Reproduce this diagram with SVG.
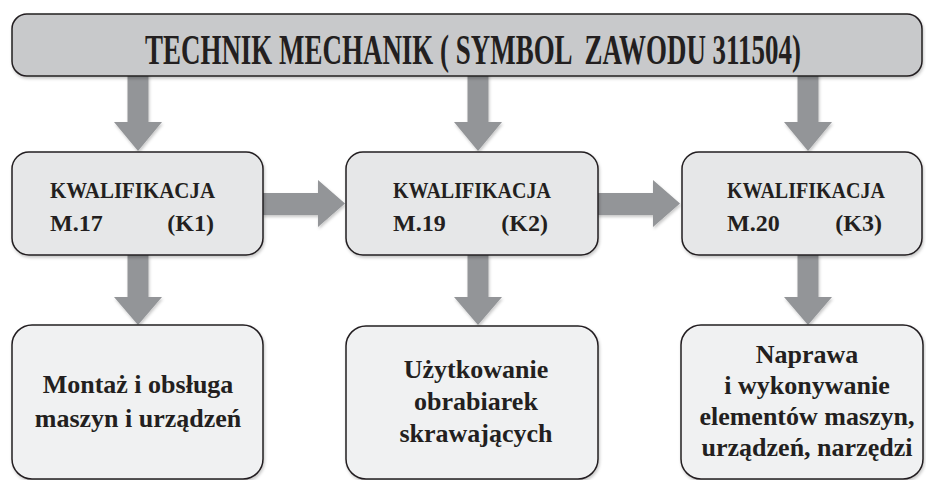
<svg xmlns="http://www.w3.org/2000/svg" width="926" height="480" viewBox="0 0 926 480">
  <defs>
    <filter id="shadow" x="-10%" y="-10%" width="120%" height="130%">
      <feDropShadow dx="1" dy="2" stdDeviation="1.8" flood-color="#000" flood-opacity="0.22"/>
    </filter>
    <style>
      .arrow { fill: #939598; filter: url(#shadow); }
      .box { stroke: #231f20; stroke-width: 1.5; filter: url(#shadow); }
      .title-box { fill: #c8c9cb; }
      .qual-box { fill: #e6e7e8; }
      .area-box { fill: #f0f1f2; }
      text { font-family: "Liberation Serif", "DejaVu Serif", serif; font-weight: bold; fill: #231f20; }
      .title { font-size: 42px; white-space: pre; }
      .qual { font-size: 24px; }
      .area { font-size: 26px; text-anchor: middle; }
    </style>
  </defs>
  <rect width="926" height="480" fill="#ffffff"/>

  <!-- connectors: wide block arrows -->
  <g id="connectors">
    <!-- title to qualifications -->
    <path class="arrow" d="M127.5 70 H148.5 V122 H162 L138 151 L114 122 H127.5 Z"/>
    <path class="arrow" d="M467.5 70 H488.5 V122 H502 L478 151 L454 122 H467.5 Z"/>
    <path class="arrow" d="M797.5 70 H818.5 V122 H832 L808 151 L784 122 H797.5 Z"/>
    <!-- qualification to qualification -->
    <path class="arrow" d="M262 193 H318 V180 L345 203.5 L318 227 V215 H262 Z"/>
    <path class="arrow" d="M597 193 H653 V180 L680 203.5 L653 227 V215 H597 Z"/>
    <!-- qualifications to work areas -->
    <path class="arrow" d="M127.5 254 H148.5 V297 H162 L138 325 L114 297 H127.5 Z"/>
    <path class="arrow" d="M467.5 254 H488.5 V297 H502 L478 325 L454 297 H467.5 Z"/>
    <path class="arrow" d="M797.5 254 H818.5 V297 H832 L808 325 L784 297 H797.5 Z"/>
  </g>

  <g id="title">
    <rect class="box title-box" x="12" y="14" width="910" height="62" rx="15"/>
    <!-- condensed heading: horizontal squeeze of the bold serif -->
    <text class="title" transform="translate(145 64) scale(0.642 1)" x="0" y="0">TECHNIK MECHANIK ( SYMBOL  ZAWODU 311504)</text>
  </g>

  <g id="k1">
    <rect class="box qual-box" x="12" y="152" width="251" height="103" rx="17"/>
    <text class="qual" x="50" y="198" textLength="165" lengthAdjust="spacingAndGlyphs">KWALIFIKACJA</text>
    <text class="qual" x="50" y="231">M.17</text>
    <text class="qual" x="214" y="231" text-anchor="end">(K1)</text>
  </g>

  <g id="k2">
    <rect class="box qual-box" x="346" y="152" width="252" height="103" rx="17"/>
    <text class="qual" x="393" y="198" textLength="158" lengthAdjust="spacingAndGlyphs">KWALIFIKACJA</text>
    <text class="qual" x="393" y="231">M.19</text>
    <text class="qual" x="548" y="231" text-anchor="end">(K2)</text>
  </g>

  <g id="k3">
    <rect class="box qual-box" x="682" y="152" width="240" height="103" rx="17"/>
    <text class="qual" x="727" y="198" textLength="158" lengthAdjust="spacingAndGlyphs">KWALIFIKACJA</text>
    <text class="qual" x="727" y="231">M.20</text>
    <text class="qual" x="882" y="231" text-anchor="end">(K3)</text>
  </g>

  <g id="area1">
    <rect class="box area-box" x="12" y="325" width="251" height="154" rx="20"/>
    <text class="area" x="138" y="393">Montaż i obsługa</text>
    <text class="area" x="138" y="427">maszyn i urządzeń</text>
  </g>

  <g id="area2">
    <rect class="box area-box" x="346" y="326" width="252" height="153" rx="20"/>
    <text class="area" x="476" y="378">Użytkowanie</text>
    <text class="area" x="476" y="410">obrabiarek</text>
    <text class="area" x="476" y="442">skrawających</text>
  </g>

  <g id="area3">
    <rect class="box area-box" x="681" y="325" width="242" height="154" rx="20"/>
    <text class="area" x="807" y="363">Naprawa</text>
    <text class="area" x="807" y="394">i wykonywanie</text>
    <text class="area" x="807" y="425">elementów maszyn,</text>
    <text class="area" x="807" y="456">urządzeń, narzędzi</text>
  </g>
</svg>
